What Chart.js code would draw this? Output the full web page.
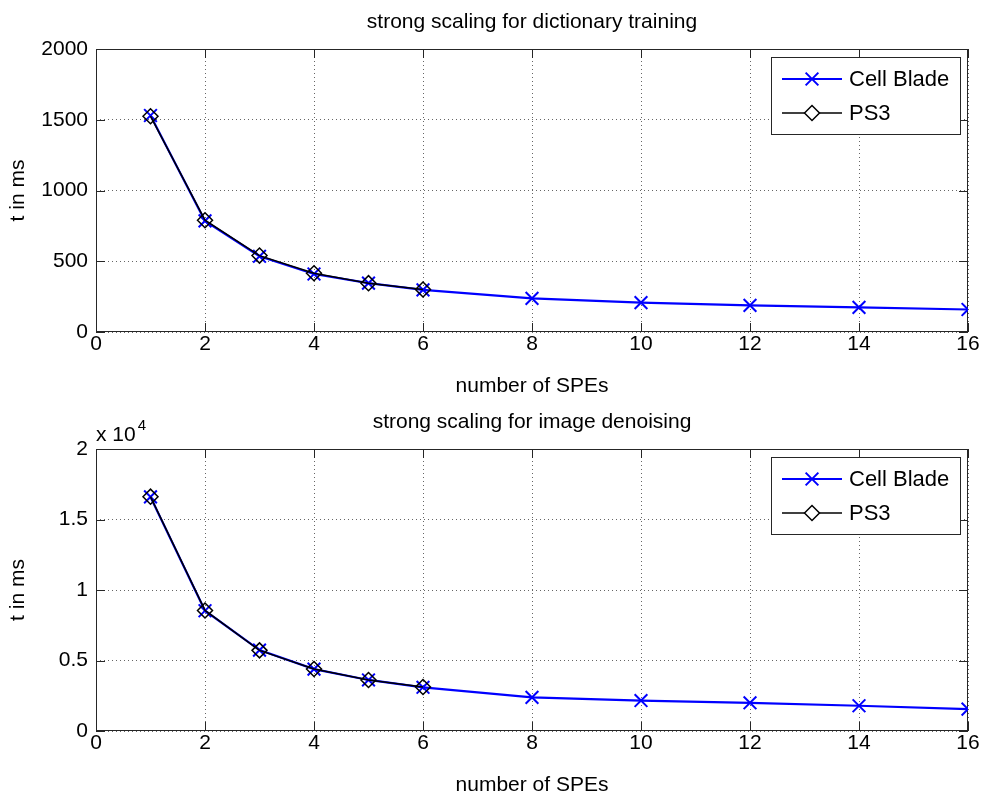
<!DOCTYPE html>
<html>
<head>
<meta charset="utf-8">
<script src="https://cdn.jsdelivr.net/npm/chart.js@4/dist/chart.umd.min.js"></script>
<style>
  body { margin: 0; background: #fff; }
  #wrap { position: relative; width: 984px; height: 799px; }
  canvas { position: absolute; left: 0; }
</style>
</head>
<body>
<div id="wrap">
  <canvas id="topChart" width="984" height="400" style="top:0"></canvas>
  <canvas id="bottomChart" width="984" height="399" style="top:400px"></canvas>
</div>
<script>
// values
const spes = [1, 2, 3, 4, 5, 6, 8, 10, 12, 14, 16];
const ps3Spes = [1, 2, 3, 4, 5, 6];
const dictCellBlade = [1530, 785, 535, 410, 345, 298, 238, 208, 188, 174, 159];
const dictPs3 = [1525, 790, 540, 415, 345, 300];
const denoiseCellBlade = [16600, 8530, 5740, 4390, 3620, 3100, 2380, 2160, 2000, 1790, 1550];
const denoisePs3 = [16620, 8550, 5720, 4400, 3620, 3120];

const xTicks = [0, 2, 4, 6, 8, 10, 12, 14, 16];
const dictYTicks = [0, 500, 1000, 1500, 2000];
const denoiseYTicks = [0, 5000, 10000, 15000, 20000];
const denoiseYLabels = ['0', '0.5', '1', '1.5', '2'];

const FONT = 'Liberation Sans, Arial, sans-serif';
const BLUE = '#0000ff';

function toPoints(xs, ys) {
  return xs.map((x, i) => ({ x: x, y: ys[i] }));
}

// box round the axes + small inward tick marks on all four sides
const boxPlugin = {
  id: 'box',
  beforeDatasetsDraw(chart) {
    const { ctx, chartArea: a, scales } = chart;
    ctx.save();
    ctx.strokeStyle = '#262626';
    ctx.lineWidth = 1;
    ctx.strokeRect(a.left + 0.5, a.top + 0.5, a.right - a.left - 1, a.bottom - a.top - 1);
    const len = 9;
    ctx.beginPath();
    scales.x.ticks.forEach(t => {
      const px = Math.round(scales.x.getPixelForValue(t.value)) + 0.5;
      ctx.moveTo(px, a.bottom); ctx.lineTo(px, a.bottom - len);
      ctx.moveTo(px, a.top); ctx.lineTo(px, a.top + len);
    });
    scales.y.ticks.forEach(t => {
      const py = Math.round(scales.y.getPixelForValue(t.value)) + 0.5;
      ctx.moveTo(a.left, py); ctx.lineTo(a.left + len, py);
      ctx.moveTo(a.right, py); ctx.lineTo(a.right - len, py);
    });
    ctx.stroke();
    ctx.restore();
  }
};

// MATLAB style legend box in the upper right corner
const legendPlugin = {
  id: 'matLegend',
  afterDatasetsDraw(chart) {
    const { ctx, chartArea: a } = chart;
    const w = 189, h = 77;
    const left = a.right - 8 - w, top = a.top + 8;
    ctx.save();
    ctx.fillStyle = '#fff';
    ctx.fillRect(left, top, w, h);
    ctx.strokeStyle = '#262626';
    ctx.lineWidth = 1;
    ctx.strokeRect(left + 0.5, top + 0.5, w, h);
    const rows = [chart.data.datasets[1], chart.data.datasets[0]];
    rows.forEach((ds, i) => {
      const y = top + 22 + i * 34;
      ctx.strokeStyle = ds.borderColor;
      ctx.lineWidth = ds.borderWidth;
      ctx.beginPath();
      ctx.moveTo(left + 11, y); ctx.lineTo(left + 71, y);
      ctx.stroke();
      ctx.fillStyle = '#fff';
      ctx.lineWidth = ds.pointBorderWidth;
      Chart.helpers.drawPoint(ctx, {
        pointStyle: ds.pointStyle, radius: ds.pointRadius,
        borderWidth: ds.pointBorderWidth, rotation: 0
      }, left + 41, y);
      ctx.fillStyle = '#000';
      ctx.font = '22px ' + FONT;
      ctx.textBaseline = 'middle';
      ctx.fillText(ds.label, left + 78, y + 1);
    });
    ctx.restore();
  }
};

// "x 10^4" multiplier above the y axis
const exponentPlugin = {
  id: 'exponent',
  afterDraw(chart) {
    if (!chart.options.plugins.exponent || !chart.options.plugins.exponent.show) return;
    const { ctx, chartArea: a } = chart;
    ctx.save();
    ctx.fillStyle = '#000';
    ctx.textBaseline = 'alphabetic';
    ctx.font = '21px ' + FONT;
    ctx.fillText('x 10', a.left, a.top - 8);
    const w = ctx.measureText('x 10').width;
    ctx.font = '15px ' + FONT;
    ctx.fillText('4', a.left + w + 2, a.top - 19);
    ctx.restore();
  }
};

function makeChart(id, title, cellBlade, ps3, yTicks, yLabels, showExp) {
  const canvas = document.getElementById(id);
  const xHeight = canvas.height - 332 + (id === 'bottomChart' ? 1 : 0);
  return new Chart(canvas, {
    type: 'line',
    data: {
      datasets: [
        {
          label: 'PS3',
          data: toPoints(ps3Spes, ps3),
          borderColor: '#000',
          borderWidth: 1.5,
          pointStyle: 'rectRot',
          pointRadius: 7.5,
          pointBorderWidth: 1.5,
          pointBorderColor: '#000',
          pointBackgroundColor: 'rgba(0,0,0,0)',
          order: 0
        },
        {
          label: 'Cell Blade',
          data: toPoints(spes, cellBlade),
          borderColor: BLUE,
          borderWidth: 2.2,
          pointStyle: 'crossRot',
          pointRadius: 9,
          pointBorderWidth: 2,
          pointBorderColor: BLUE,
          order: 1
        }
      ]
    },
    options: {
      responsive: false,
      animation: false,
      devicePixelRatio: 1,
      layout: { padding: { left: 0, right: 16, top: 0, bottom: 0 } },
      plugins: {
        legend: { display: false },
        tooltip: { enabled: false },
        exponent: { show: showExp },
        title: {
          display: true,
          text: title,
          fullSize: false,
          color: '#000',
          font: { family: FONT, size: 21, weight: 'normal' },
          padding: { top: 9.4, bottom: 14.4 }
        }
      },
      scales: {
        x: {
          type: 'linear',
          min: 0,
          max: 16,
          afterBuildTicks: s => { s.ticks = xTicks.map(v => ({ value: v })); },
          afterFit: s => { s.height = xHeight; },
          ticks: { color: '#000', font: { family: FONT, size: 21 }, padding: 0 },
          grid: { drawTicks: false, color: 'rgba(0,0,0,0.6)', lineWidth: 1 },
          border: { display: false, dash: [1, 3] },
          title: {
            display: true,
            text: 'number of SPEs',
            color: '#000',
            font: { family: FONT, size: 21 },
            padding: { top: 0, bottom: 1.4 }
          }
        },
        y: {
          type: 'linear',
          min: yTicks[0],
          max: yTicks[yTicks.length - 1],
          afterBuildTicks: s => { s.ticks = yTicks.map(v => ({ value: v })); },
          afterFit: s => { s.width = 96; },
          ticks: {
            color: '#000',
            font: { family: FONT, size: 21 },
            padding: 8,
            callback: (v) => yLabels ? yLabels[yTicks.indexOf(v)] : String(v)
          },
          grid: { drawTicks: false, color: 'rgba(0,0,0,0.6)', lineWidth: 1 },
          border: { display: false, dash: [1, 3] },
          title: {
            display: true,
            text: 't in ms',
            color: '#000',
            font: { family: FONT, size: 21 },
            padding: { top: 5.4, bottom: 0 }
          }
        }
      }
    },
    plugins: [boxPlugin, legendPlugin, exponentPlugin]
  });
}

makeChart('topChart', 'strong scaling for dictionary training',
  dictCellBlade, dictPs3, dictYTicks, null, false);
makeChart('bottomChart', 'strong scaling for image denoising',
  denoiseCellBlade, denoisePs3, denoiseYTicks, denoiseYLabels, true);
</script>
</body>
</html>
